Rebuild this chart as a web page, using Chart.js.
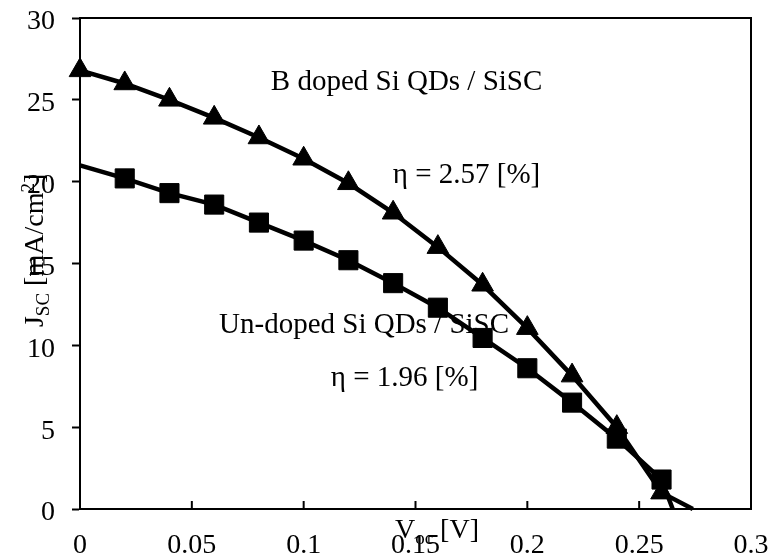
<!DOCTYPE html>
<html>
<head>
<meta charset="utf-8">
<script src="https://cdn.jsdelivr.net/npm/chart.js@4.4.1/dist/chart.umd.min.js"></script>
<style>
  html, body { margin: 0; padding: 0; background: #fff; }
  canvas { display: block; }
</style>
</head>
<body>
<canvas id="c" width="768" height="560"></canvas>
<script>
// ---- data ----
const voltage = [0.00, 0.02, 0.04, 0.06, 0.08, 0.10, 0.12, 0.14, 0.16, 0.18, 0.20, 0.22, 0.24, 0.26];
const bDopedJsc = [26.8, 26.0, 25.0, 23.9, 22.7, 21.4, 19.9, 18.1, 16.0, 13.7, 11.05, 8.15, 5.0, 1.0];
const unDopedV = [0.02, 0.04, 0.06, 0.08, 0.10, 0.12, 0.14, 0.16, 0.18, 0.20, 0.22, 0.24, 0.26];
const unDopedJsc = [20.2, 19.3, 18.6, 17.5, 16.4, 15.2, 13.8, 12.3, 10.45, 8.6, 6.5, 4.3, 1.8];
// line end points (no markers): J at V=0 and Voc at J=0
const bDopedVoc = 0.274;
const unDopedJ0 = 21.0;
const unDopedVoc = 0.265;

const xTickValues = [0, 0.05, 0.1, 0.15, 0.2, 0.25, 0.3];
const xTickLabels = ['0', '0.05', '0.1', '0.15', '0.2', '0.25', '0.3'];
const yTickValues = [0, 5, 10, 15, 20, 25, 30];
const yTickLabels = ['0', '5', '10', '15', '20', '25', '30'];

const annotations = [
  { text: 'B doped Si QDs / SiSC', x: 0.146, y: 25.6 },
  { text: '\u03b7 = 2.57 [%]', x: 0.1728, y: 19.9 },
  { text: 'Un-doped Si QDs / SiSC', x: 0.127, y: 10.75 },
  { text: '\u03b7 = 1.96 [%]', x: 0.1451, y: 7.5 }
];

// ---- build datasets ----
const bPoints = voltage.map((v, i) => ({ x: v, y: bDopedJsc[i], m: true }));
bPoints.push({ x: bDopedVoc, y: 0, m: false });
const uPoints = [{ x: 0, y: unDopedJ0, m: false }].concat(
  unDopedV.map((v, i) => ({ x: v, y: unDopedJsc[i], m: true })));
uPoints.push({ x: unDopedVoc, y: 0, m: false });

const FONT = 'Liberation Serif, Times New Roman, serif';

function drawRich(ctx, parts, size) {
  const fontFor = (p) => (p.s ? Math.round(size * 0.68) : size) + 'px ' + FONT;
  let w = 0;
  parts.forEach(p => { ctx.font = fontFor(p); w += ctx.measureText(p.t).width; });
  let x = -w / 2;
  ctx.textAlign = 'left';
  ctx.textBaseline = 'alphabetic';
  parts.forEach(p => {
    ctx.font = fontFor(p);
    let dy = 0;
    if (p.s === 'sub') dy = size * 0.22;
    if (p.s === 'sup') dy = -size * 0.32;
    ctx.fillText(p.t, x, dy);
    x += ctx.measureText(p.t).width;
  });
}

const decor = {
  id: 'decor',
  beforeDatasetsDraw(chart) {
    const { ctx, chartArea: a, scales: { x, y } } = chart;
    ctx.save();
    // frame
    ctx.strokeStyle = '#000';
    ctx.lineWidth = 2;
    ctx.strokeRect(a.left, a.top, a.right - a.left, a.bottom - a.top);
    // inward x ticks
    xTickValues.forEach(v => {
      const px = x.getPixelForValue(v);
      ctx.beginPath();
      ctx.moveTo(px, a.bottom);
      ctx.lineTo(px, a.bottom - 8);
      ctx.stroke();
    });
    // annotations
    ctx.fillStyle = '#000';
    ctx.font = '29px ' + FONT;
    ctx.textAlign = 'center';
    ctx.textBaseline = 'alphabetic';
    annotations.forEach(an => {
      ctx.fillText(an.text, x.getPixelForValue(an.x), y.getPixelForValue(an.y));
    });
    ctx.restore();
  },
  afterDraw(chart) {
    const { ctx, scales: { x, y } } = chart;
    ctx.save();
    ctx.fillStyle = '#000';
    // x title
    ctx.translate(x.getPixelForValue(0.1596), 538);
    drawRich(ctx, [{ t: 'V' }, { t: 'oc', s: 'sub' }, { t: ' [V]' }], 28);
    ctx.restore();
    ctx.save();
    ctx.fillStyle = '#000';
    ctx.translate(43, y.getPixelForValue(15.8));
    ctx.rotate(-Math.PI / 2);
    drawRich(ctx, [{ t: 'J' }, { t: 'SC', s: 'sub' }, { t: ' [mA/cm' }, { t: '2', s: 'sup' }, { t: ']' }], 28);
    ctx.restore();
  }
};

new Chart(document.getElementById('c'), {
  type: 'scatter',
  data: {
    datasets: [
      {
        label: 'Un-doped Si QDs / SiSC',
        data: uPoints,
        showLine: true,
        borderColor: '#000',
        backgroundColor: '#000',
        borderWidth: 4.5,
        tension: 0,
        pointStyle: 'rect',
        pointRadius: (c) => (c.raw && c.raw.m ? 13.5 : 0),
        pointBorderWidth: 1,
        pointBackgroundColor: '#000',
        pointBorderColor: '#000',
        clip: false
      },
      {
        label: 'B doped Si QDs / SiSC',
        data: bPoints,
        showLine: true,
        borderColor: '#000',
        backgroundColor: '#000',
        borderWidth: 4.5,
        tension: 0,
        pointStyle: 'triangle',
        pointRadius: (c) => (c.raw && c.raw.m ? 12.5 : 0),
        pointBorderWidth: 1,
        pointBackgroundColor: '#000',
        pointBorderColor: '#000',
        clip: false
      }
    ]
  },
  options: {
    responsive: false,
    devicePixelRatio: 1,
    animation: false,
    events: [],
    layout: { padding: { top: 18, right: 17, left: 0, bottom: 0 } },
    plugins: { legend: { display: false }, tooltip: { enabled: false } },
    scales: {
      x: {
        type: 'linear',
        min: 0, max: 0.3,
        afterBuildTicks: (s) => { s.ticks = xTickValues.map(v => ({ value: v })); },
        afterFit: (s) => {
          s.height = 51;
          s.paddingLeft = 0; s.paddingRight = 0; s.paddingTop = 0; s.paddingBottom = 0;
        },
        ticks: {
          color: '#000',
          font: { family: FONT, size: 28 },
          padding: 20,
          maxRotation: 0,
          autoSkip: false,
          callback: (v, i) => xTickLabels[i]
        },
        grid: { display: false, drawTicks: false },
        border: { display: true, color: '#000', width: 2 }
      },
      y: {
        type: 'linear',
        min: 0, max: 30,
        afterBuildTicks: (s) => { s.ticks = yTickValues.map(v => ({ value: v })); },
        afterFit: (s) => {
          s.width = 80;
          s.paddingLeft = 0; s.paddingRight = 0; s.paddingTop = 0; s.paddingBottom = 0;
        },
        ticks: {
          color: '#000',
          font: { family: FONT, size: 28 },
          padding: 17,
          labelOffset: 4,
          autoSkip: false,
          callback: (v, i) => yTickLabels[i]
        },
        grid: { drawOnChartArea: false, drawTicks: true, tickLength: 8, tickWidth: 2, color: '#000' },
        border: { display: true, color: '#000', width: 2 }
      }
    }
  },
  plugins: [decor]
});
</script>
</body>
</html>
